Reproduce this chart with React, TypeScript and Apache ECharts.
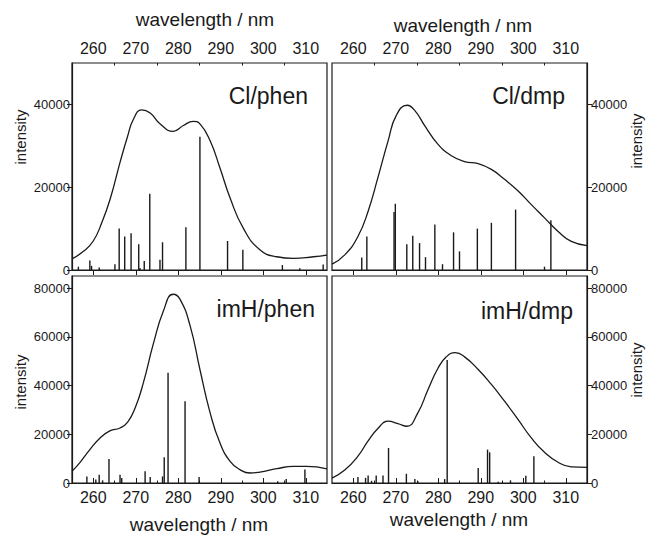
import React, { useEffect, useRef } from "react";
import * as echarts from "echarts";

// ---------- data ----------
const wavelengthTicks = [260, 270, 280, 290, 300, 310];
const wavelengthMinorTicks = [265, 275, 285, 295, 305];
const intensityTicksTop = [0, 20000, 40000];
const intensityTicksBottom = [0, 20000, 40000, 60000, 80000];
const panelLabels = ["Cl/phen", "Cl/dmp", "imH/phen", "imH/dmp"];
const axisTitleX = "wavelength / nm";
const axisTitleY = "intensity";

const clPhenSpectrum: [number, number][] = [
  [255, 2700], [257.7, 4500], [260, 7000], [262, 11400], [264, 17200], [266.3, 26000],
  [268, 32000], [269.4, 36300], [271.4, 38700], [273.4, 37900], [275.7, 35300],
  [278.8, 33500], [281.2, 34900], [283.5, 35900], [285.1, 35300], [287.5, 31200],
  [289.8, 24700], [292.2, 17400], [295.3, 10100], [299.2, 4900], [303.2, 3200],
  [307.1, 2800], [311.8, 3200], [315, 3600],
];
const clPhenSticks: [number, number][] = [
  [256.5, 800], [259.2, 2300], [259.6, 1000], [261.4, 600], [265.1, 1400], [266.1, 10000],
  [267.4, 8100], [268.9, 8900], [270.7, 6200], [271.0, 500], [272.0, 2200], [273.3, 18400],
  [275.7, 2500], [276.3, 6700], [281.8, 10300], [285.1, 32200], [291.6, 7000],
  [295.2, 4900], [304.5, 1200], [308.6, 400], [314.1, 1300],
];

const clDmpSpectrum: [number, number][] = [
  [255, 1400], [258, 3650], [261.1, 8100], [263.5, 14200], [265.8, 22300], [268.2, 31200],
  [270.1, 37300], [272.7, 39800], [274.5, 38500], [276.8, 34900], [279.9, 30400],
  [283.1, 27600], [286.2, 26200], [289.4, 25700], [292.5, 24300], [295.6, 21900],
  [298.8, 19100], [301.9, 15800], [305, 12600], [308.2, 9300], [311.3, 6900], [315, 5900],
];
const clDmpSticks: [number, number][] = [
  [262.0, 3000], [263.2, 8100], [269.6, 14000], [269.9, 16000], [272.6, 6200], [274.0, 8300],
  [275.6, 6500], [277.0, 3100], [279.2, 11000], [281.0, 1400], [283.6, 9100], [285.0, 4500],
  [289.2, 10000], [292.5, 11400], [298.2, 14600], [305.0, 800], [306.5, 12000],
];

const imhPhenSpectrum: [number, number][] = [
  [255, 4800], [256.9, 8500], [259.2, 13700], [261.6, 18500], [263.9, 21400], [266.3, 22600],
  [268.1, 25000], [269.9, 31000], [271.8, 41200], [274.1, 56900], [276.5, 70600],
  [278.8, 77500], [280.4, 75500], [282.8, 64500], [285.1, 46600], [287.5, 28800],
  [289.8, 16500], [292.2, 8900], [294.5, 5500], [296.9, 4100], [299.2, 4500],
  [303.2, 5900], [307.1, 6800], [310.2, 6800], [315, 5800],
];
const imhPhenSticks: [number, number][] = [
  [258.5, 2700], [260.6, 1400], [261.4, 3400], [262.2, 1100], [263.7, 9900], [266.3, 3400],
  [266.7, 2100], [272.2, 4800], [273.4, 2500], [276.3, 2700], [276.7, 10600], [277.6, 45300],
  [281.6, 33600], [284.9, 2500], [303.4, 700], [305.4, 1600], [309.8, 5500],
];

const imhDmpSpectrum: [number, number][] = [
  [255, 2000], [258, 5300], [261.1, 11000], [263.5, 17300], [265.8, 22400], [268.2, 25400],
  [270.5, 24400], [272.6, 23300], [275.2, 28800], [277.6, 38400], [279.9, 47000],
  [281.9, 51800], [284.0, 53500], [286.2, 51800], [289.4, 46600], [292.5, 40500],
  [295.6, 33600], [298.8, 26000], [301.9, 18500], [305, 12600], [308.2, 8500],
  [311.3, 6600], [315, 6400],
];
const imhDmpSticks: [number, number][] = [
  [261.1, 2500], [262.9, 2100], [263.5, 3100], [264.3, 900], [265.4, 3100], [267.0, 3100],
  [268.3, 14400], [272.5, 3800], [274.5, 1600], [275.2, 700], [281.5, 1600], [282.1, 50500],
  [289.4, 6200], [291.6, 13700], [292.1, 12600], [294.1, 500], [297.0, 1100], [300.6, 3000],
  [302.5, 11000],
];

const spectra = [clPhenSpectrum, clDmpSpectrum, imhPhenSpectrum, imhDmpSpectrum];
const sticks = [clPhenSticks, clDmpSticks, imhPhenSticks, imhDmpSticks];
const intensityMax = [50000, 50000, 85000, 85000];
const intensityTicks = [intensityTicksTop, intensityTicksTop, intensityTicksBottom, intensityTicksBottom];

// ---------- layout / style ----------
const FONT = "'Liberation Sans', Arial, Helvetica, sans-serif";
const INK = "#1a1a1a";
const grids = [
  { left: 72, top: 63, width: 255, height: 207 },
  { left: 332, top: 63, width: 255, height: 207 },
  { left: 72, top: 276, width: 255, height: 207 },
  { left: 332, top: 276, width: 255, height: 207 },
];

function buildOption() {
  const xAxis: any[] = [];
  const yAxis: any[] = [];
  const series: any[] = [];
  grids.forEach((_, g) => {
    const top = g < 2;
    const pos = top ? "top" : "bottom";
    xAxis.push({
      gridIndex: g,
      type: "value",
      position: pos,
      min: 255,
      max: 315,
      axisLine: { show: true, lineStyle: { color: INK, width: 1.2 } },
      axisTick: { show: true, inside: true, length: 5, customValues: wavelengthTicks, lineStyle: { color: INK, width: 1 } },
      axisLabel: {
        show: true,
        customValues: wavelengthTicks,
        formatter: (v: number) => String(v),
        fontSize: 16,
        fontFamily: FONT,
        color: INK,
        margin: top ? 7 : 6,
      },
      splitLine: { show: false },
    });
    xAxis.push({
      gridIndex: g,
      type: "value",
      position: pos,
      min: 255,
      max: 315,
      axisLine: { show: false },
      axisTick: { show: true, inside: true, length: 2.5, customValues: wavelengthMinorTicks, lineStyle: { color: INK, width: 1 } },
      axisLabel: { show: false },
      splitLine: { show: false },
    });
    const left = g % 2 === 0;
    yAxis.push({
      gridIndex: g,
      type: "value",
      position: left ? "left" : "right",
      min: 0,
      max: intensityMax[g],
      axisLine: { show: true, lineStyle: { color: INK, width: 1.2 } },
      axisTick: { show: true, inside: false, length: 5, customValues: intensityTicks[g], lineStyle: { color: INK, width: 1 } },
      axisLabel: {
        show: true,
        customValues: intensityTicks[g],
        formatter: (v: number) => String(v),
        fontSize: 13,
        fontFamily: FONT,
        color: INK,
        margin: left ? 2 : 4,
      },
      splitLine: { show: false },
    });
    series.push({
      type: "line",
      xAxisIndex: 2 * g,
      yAxisIndex: g,
      data: spectra[g],
      smooth: 0.5,
      showSymbol: false,
      symbol: "none",
      lineStyle: { color: INK, width: 1.3 },
      z: 3,
    });
    series.push({
      type: "custom",
      xAxisIndex: 2 * g,
      yAxisIndex: g,
      data: sticks[g],
      renderItem: (params: any, api: any) => {
        const p0 = api.coord([api.value(0), 0]);
        const p1 = api.coord([api.value(0), api.value(1)]);
        return {
          type: "line",
          shape: { x1: p0[0], y1: p0[1], x2: p1[0], y2: p1[1] },
          style: { stroke: INK, lineWidth: 1.4 },
        };
      },
      z: 2,
    });
  });

  const graphic: any[] = [];
  const labelPos = [
    { x: 308, y: 96 },
    { x: 565, y: 96 },
    { x: 315, y: 309 },
    { x: 573, y: 311 },
  ];
  panelLabels.forEach((t, i) => {
    graphic.push({
      type: "text",
      x: labelPos[i].x,
      y: labelPos[i].y,
      style: { text: t, fontSize: 23, fontFamily: FONT, fill: INK, align: "right", verticalAlign: "middle" },
    });
  });
  const xTitlePos = [
    { x: 205, y: 19 },
    { x: 463, y: 25 },
    { x: 199, y: 524 },
    { x: 459, y: 519 },
  ];
  xTitlePos.forEach((p) => {
    graphic.push({
      type: "text",
      x: p.x,
      y: p.y,
      style: { text: axisTitleX, fontSize: 19, fontFamily: FONT, fill: INK, align: "center", verticalAlign: "middle" },
    });
  });
  const yTitlePos = [
    { x: 20, y: 137 },
    { x: 636, y: 141 },
    { x: 20, y: 382 },
    { x: 636, y: 370 },
  ];
  yTitlePos.forEach((p) => {
    graphic.push({
      type: "text",
      x: p.x,
      y: p.y,
      rotation: Math.PI / 2,
      style: { text: axisTitleY, fontSize: 15, fontFamily: FONT, fill: INK, align: "center", verticalAlign: "middle" },
    });
  });

  return {
    animation: false,
    backgroundColor: "#ffffff",
    textStyle: { fontFamily: FONT },
    grid: grids.map((g) => ({ ...g, show: true, borderColor: INK, borderWidth: 1.2, backgroundColor: "transparent", containLabel: false })),
    xAxis,
    yAxis,
    series,
    graphic,
  };
}

export default function App() {
  const ref = useRef<HTMLDivElement>(null);
  useEffect(() => {
    if (!ref.current) return;
    const chart = echarts.init(ref.current, undefined, { renderer: "svg" });
    chart.setOption(buildOption() as any);
    return () => chart.dispose();
  }, []);
  return (
    <div
      ref={ref}
      style={{ position: "fixed", left: 0, top: 0, width: 651, height: 535, background: "#fff" }}
    />
  );
}
